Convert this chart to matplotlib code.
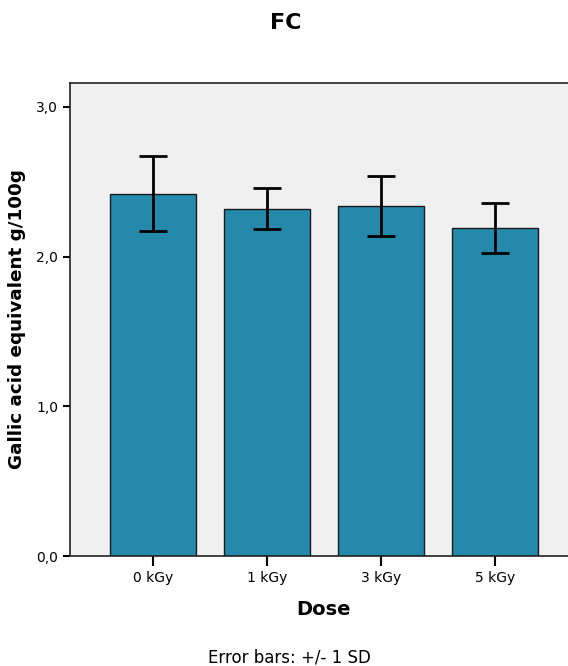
import matplotlib
matplotlib.use("Agg")
from matplotlib import pyplot as plt
import numpy as np

doses = ["0 kGy", "1 kGy", "3 kGy", "5 kGy"]
means = [2.42, 2.32, 2.34, 2.19]
sds = [0.25, 0.137, 0.20, 0.167]
y_ticks = [0.0, 1.0, 2.0, 3.0]
y_tick_labels = ["0,0", "1,0", "2,0", "3,0"]

plt.rcParams['font.family'] = ['DejaVu Sans']

fig = plt.figure(figsize=(5.68, 6.66), dpi=100)
ax = fig.add_axes([70 / 568, 110 / 666, 508 / 568, 473 / 666])
ax.set_facecolor('#f0f0f0')

x = np.arange(len(doses))
ax.bar(x, means, width=0.754, color='#2589ab', edgecolor='#1a1a1a', linewidth=1.0, zorder=2)
ax.errorbar(x, means, yerr=sds, fmt='none', ecolor='black', elinewidth=2,
            capsize=10, capthick=2, zorder=3)

ax.set_xlim(-0.728, 3.728)
ax.set_ylim(0, 3.16)
ax.set_xticks(x)
ax.set_xticklabels(doses, fontsize=10)
ax.set_yticks(y_ticks)
ax.set_yticklabels(y_tick_labels, fontsize=10)
ax.tick_params(axis='both', direction='out', length=5, width=1.5, colors='black')
ax.tick_params(axis='x', length=7)

for s in ax.spines.values():
    s.set_color('#222222')
    s.set_linewidth(1.2)

ax.set_ylabel('Gallic acid equivalent g/100g', fontsize=13.2, fontweight='bold', labelpad=7)
ax.set_xlabel('Dose', fontsize=14, fontweight='bold', labelpad=11)

fig.text(286 / 568, 1 - 23 / 666, 'FC', fontsize=16, fontweight='bold', ha='center', va='center')
fig.text(289 / 568, 1 - 657 / 666, 'Error bars: +/- 1 SD', fontsize=12, ha='center', va='center')

plt.savefig('out.png', dpi=100)
plt.close(fig)
